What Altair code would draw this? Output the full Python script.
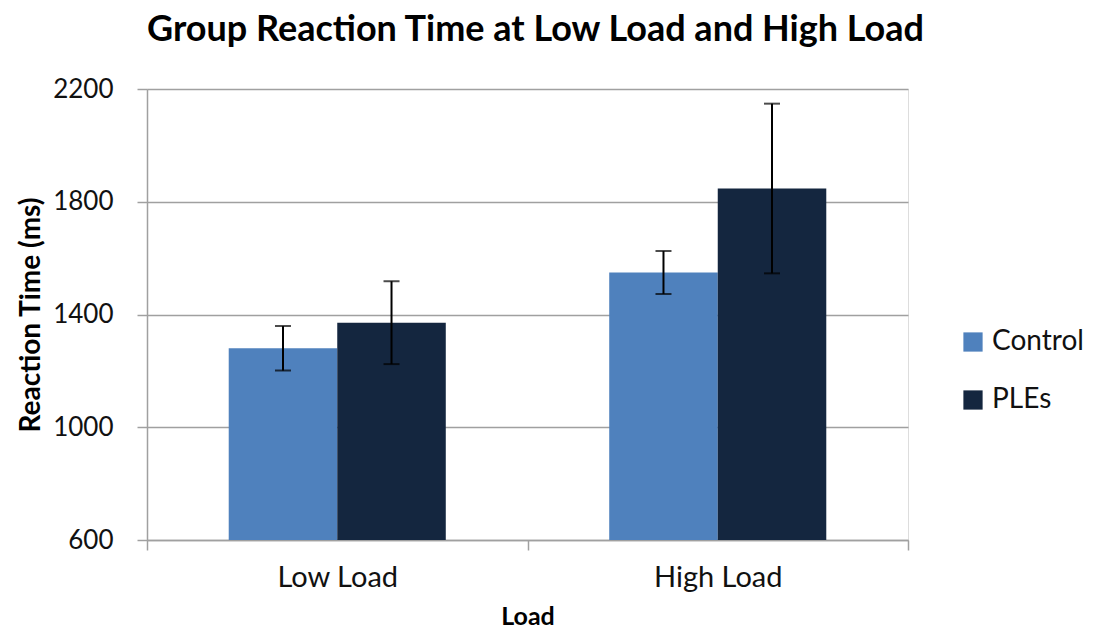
import altair as alt
import pandas as pd

loads = ["Low Load", "Low Load", "High Load", "High Load"]
groups = ["Control", "PLEs", "Control", "PLEs"]
means = [1280, 1371, 1549, 1847]
errors = [79, 147, 76, 301]

load_order = ["Low Load", "High Load"]
group_order = ["Control", "PLEs"]
group_colors = ["#4F81BD", "#14263F"]
y_ticks = [600, 1000, 1400, 1800, 2200]

df = pd.DataFrame({"Load": loads, "Group": groups, "Mean": means, "Err": errors})
df["Low"] = df["Mean"] - df["Err"]
df["High"] = df["Mean"] + df["Err"]

FONT = "Lato"
GRAY = "#A0A0A0"

x_enc = alt.X(
    "Load:N",
    sort=load_order,
    scale=alt.Scale(paddingInner=0, paddingOuter=0),
    axis=alt.Axis(
        title="Load",
        labelAngle=0,
        tickBand="extent",
        tickSize=10,
        tickColor=GRAY,
        tickWidth=1.5,
        domainColor=GRAY,
        domainWidth=1.5,
        grid=False,
        labelFont=FONT,
        labelFontSize=29,
        labelColor="#111111",
        labelPadding=13,
        titleFont=FONT,
        titleFontSize=25,
        titleFontWeight="bold",
        titleColor="#000000",
        titlePadding=12,
    ),
)
xoff_enc = alt.XOffset(
    "Group:N", sort=group_order, scale=alt.Scale(paddingInner=0, paddingOuter=0.753)
)
y_scale = alt.Scale(domain=[600, 2200], nice=False)

bars = alt.Chart(df).mark_bar(opacity=1, clip=True).encode(
    x=x_enc,
    xOffset=xoff_enc,
    y=alt.Y(
        "Mean:Q",
        scale=y_scale,
        axis=alt.Axis(
            title="Reaction Time (ms)",
            values=y_ticks,
            format="d",
            tickSize=10,
            tickColor=GRAY,
            tickWidth=1.5,
            domainColor=GRAY,
            domainWidth=1.5,
            gridColor=GRAY,
            gridWidth=1.5,
            labelFont=FONT,
            labelFontSize=26,
            labelColor="#111111",
            labelPadding=24,
            titleFont=FONT,
            titleFontSize=28,
            titleFontWeight="bold",
            titleColor="#000000",
            titlePadding=7,
        ),
    ),
    color=alt.Color(
        "Group:N",
        sort=group_order,
        scale=alt.Scale(domain=group_order, range=group_colors),
        legend=alt.Legend(
            title=None,
            orient="none",
            legendX=812,
            legendY=239,
            symbolType="square",
            symbolSize=370,
            symbolStrokeWidth=0,
            symbolOpacity=1,
            labelFont=FONT,
            labelFontSize=28,
            labelColor="#111111",
            labelOffset=5,
            rowPadding=30,
        ),
    ),
)

rules = alt.Chart(df).mark_rule(color="#000000", strokeWidth=2).encode(
    x=alt.X("Load:N", sort=load_order),
    xOffset=alt.XOffset("Group:N", sort=group_order),
    y=alt.Y("Low:Q", scale=y_scale),
    y2="High:Q",
)

caps_low = alt.Chart(df).mark_tick(color="#000000", thickness=2, size=16, orient="horizontal").encode(
    x=alt.X("Load:N", sort=load_order),
    xOffset=alt.XOffset("Group:N", sort=group_order),
    y=alt.Y("Low:Q", scale=y_scale),
)
caps_high = alt.Chart(df).mark_tick(color="#000000", thickness=2, size=16, orient="horizontal").encode(
    x=alt.X("Load:N", sort=load_order),
    xOffset=alt.XOffset("Group:N", sort=group_order),
    y=alt.Y("High:Q", scale=y_scale),
)

chart = (
    alt.layer(bars, rules, caps_low, caps_high)
    .properties(
        width=761,
        height=451,
        autosize=alt.AutoSizeParams(type="none"),
        padding={"left": 139, "top": 81, "right": 178, "bottom": 95},
        title=alt.TitleParams(
            text="Group Reaction Time at Low Load and High Load",
            font=FONT,
            fontSize=36,
            fontWeight="bold",
            color="#000000",
            anchor="middle",
            offset=27,
            dx=8,
        ),
    )
    .configure_view(stroke=None)
    .configure(background="white")
)

chart.save("out.html", embed_options={"renderer": "svg", "actions": False})
